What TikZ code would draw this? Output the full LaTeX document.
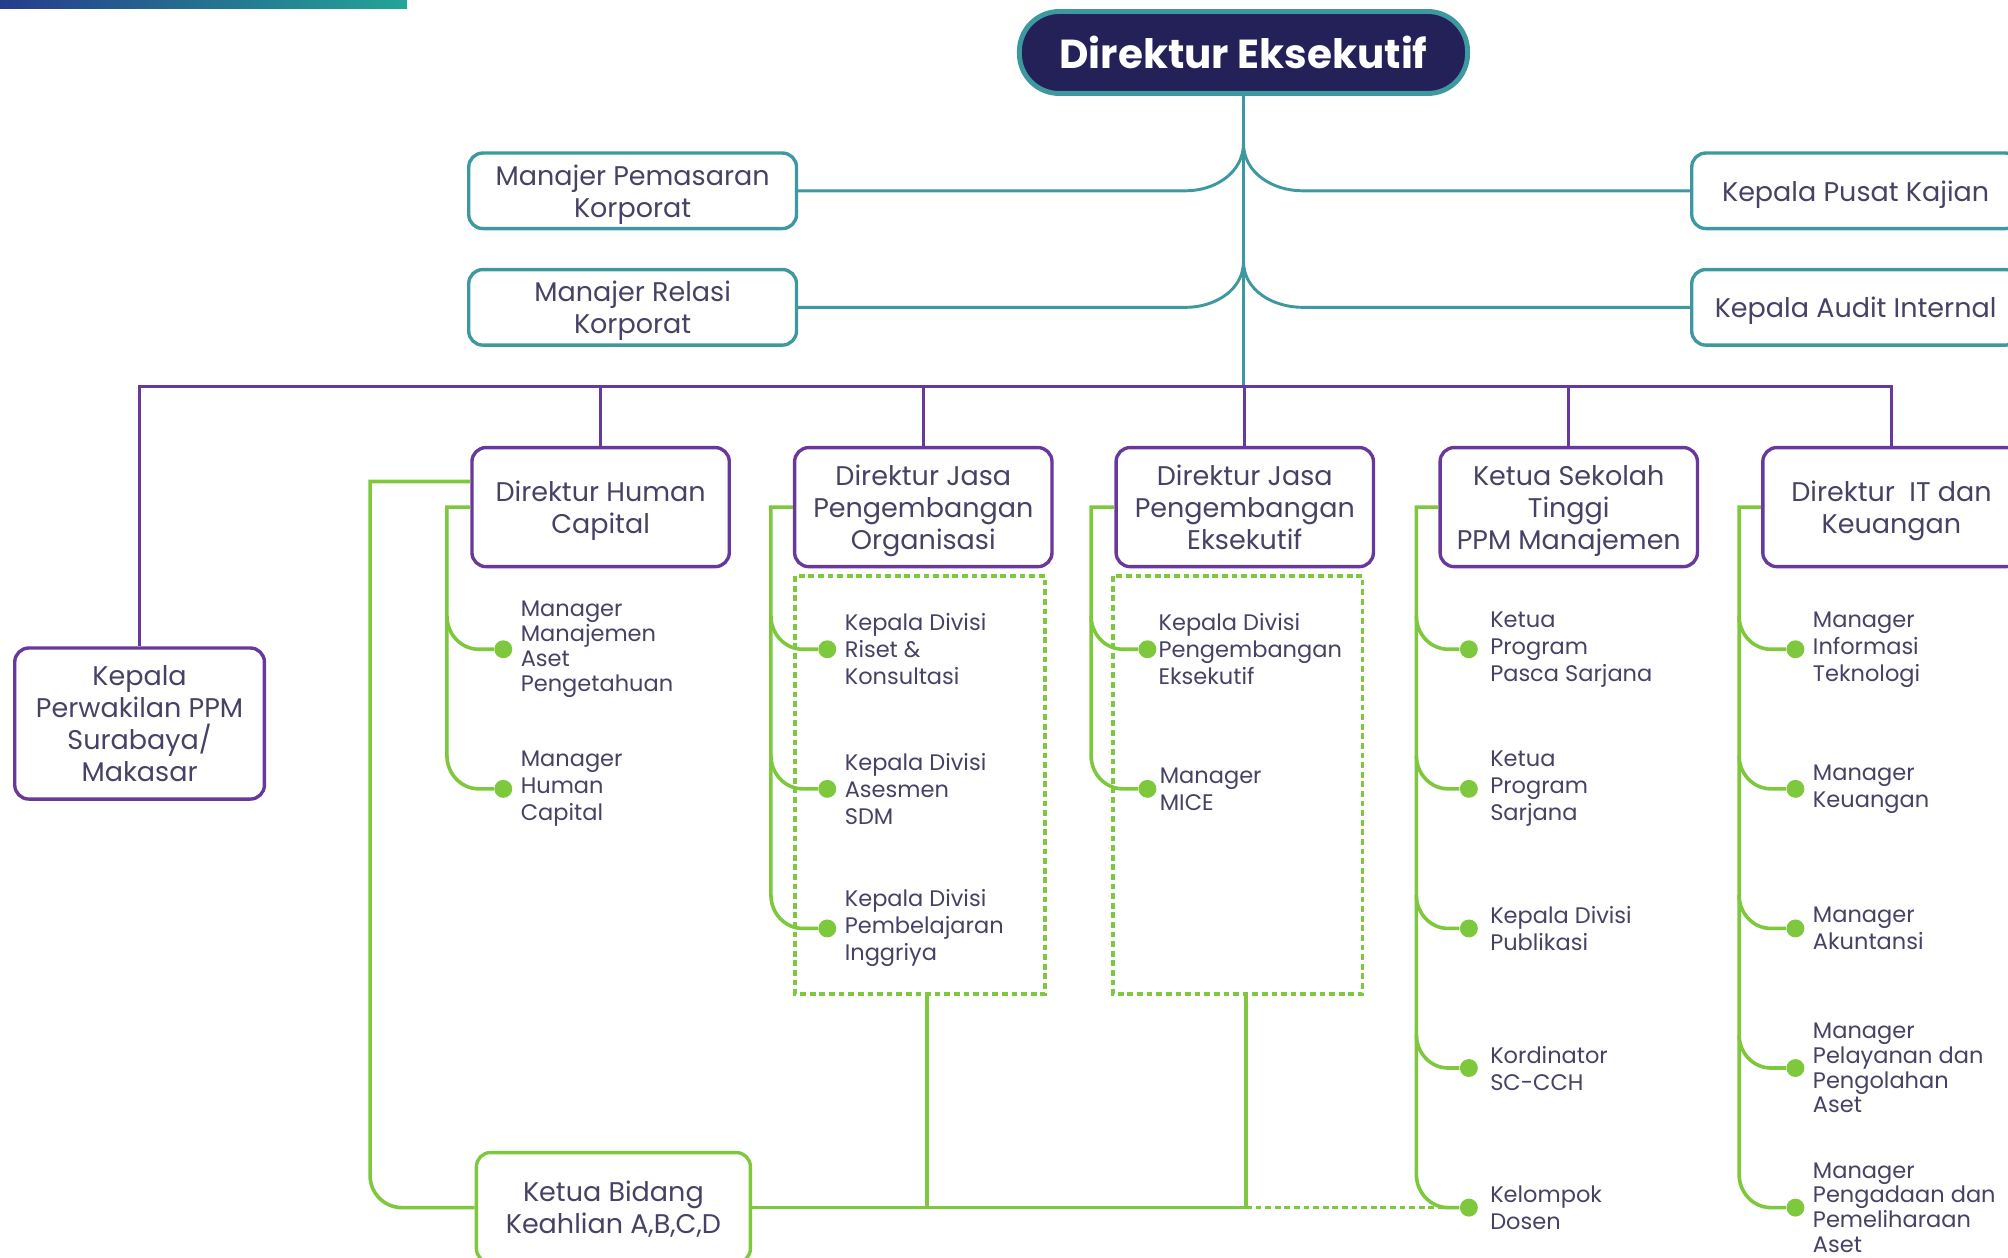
\documentclass[tikz,border=0pt]{standalone}
\usepackage{fontspec}
\setmainfont{Poppins}
\usetikzlibrary{positioning}

\definecolor{navy}{RGB}{35,33,87}
\definecolor{tealc}{RGB}{62,152,160}
\definecolor{purp}{RGB}{104,56,156}
\definecolor{lime}{RGB}{125,200,60}
\definecolor{inkc}{RGB}{70,66,100}
\definecolor{barblue}{RGB}{38,60,140}
\definecolor{barteal}{RGB}{35,165,150}

\tikzset{
  headbox/.style={draw=tealc, line width=2.2pt, fill=navy, text=white,
    rounded corners=0.62cm, minimum width=7.0cm, minimum height=1.28cm,
    font=\fontsize{18}{20}\selectfont\bfseries},
  tealbox/.style={draw=tealc, line width=1.5pt, rounded corners=0.22cm,
    minimum width=5.12cm, minimum height=1.18cm, align=center, text=inkc,
    text depth=0pt, font=\fontsize{12}{14.2}\selectfont},
  purpbox/.style={tealbox, draw=purp, minimum width=4.02cm, minimum height=1.86cm},
  greenbox/.style={tealbox, draw=lime, minimum width=4.28cm, minimum height=1.72cm},
  tealline/.style={draw=tealc, line width=1.3pt},
  purpline/.style={draw=purp, line width=1.3pt},
  greenline/.style={draw=lime, line width=1.6pt},
  greendash/.style={draw=lime, line width=1.6pt, dash pattern=on 0.09cm off 0.06cm},
  dot/.style={circle, fill=lime, inner sep=0pt, minimum size=0.28cm},
  item/.style={align=left, inner sep=0pt, text=inkc,
    font=\fontsize{10}{12}\selectfont},
  itemdense/.style={item, font=\fontsize{10}{11}\selectfont}
}

\begin{document}
\begin{tikzpicture}[x=0.02cm, y=-0.02cm]

\useasboundingbox (0,0) rectangle (1568,982);
\clip (0,0) rectangle (1568,982);

% The coloured bar in the corner
\shade[left color=barblue, right color=barteal] (0,0) rectangle (318,7);

% Director and the staff units beside him
\node[headbox] (dirut) at (971,41) {Direktur Eksekutif};
\node[tealbox] (mpk) at (494,149) {Manajer Pemasaran\\Korporat};
\node[tealbox] (mrk) at (494,240) {Manajer Relasi\\Korporat};
\node[tealbox] (kpk) at (1449,149) {Kepala Pusat Kajian};
\node[tealbox] (kai) at (1449,240) {Kepala Audit Internal};

\coordinate (j1) at (971,112);
\coordinate (j2) at (971,204);
\coordinate (busmid) at (971,302);

\draw[tealline] (dirut) -- (busmid);
\draw[tealline] (mpk.east) -- (926,149) to[out=0,in=-90] (j1);
\draw[tealline] (j1) to[out=-90,in=180] (1017,149) -- (kpk.west);
\draw[tealline] (mrk.east) -- (926,240) to[out=0,in=-90] (j2);
\draw[tealline] (j2) to[out=-90,in=180] (1017,240) -- (kai.west);

% The directors under the purple bus
\node[purpbox] (dhc) at (469,396) {Direktur Human\\Capital};
\node[purpbox] (djo) at (721,396) {Direktur Jasa\\Pengembangan\\Organisasi};
\node[purpbox] (dje) at (972,396) {Direktur Jasa\\Pengembangan\\Eksekutif};
\node[purpbox] (kst) at (1225,396) {Ketua Sekolah\\Tinggi\\PPM Manajemen};
\node[purpbox] (dit) at (1477,396) {Direktur\ \ IT dan\\Keuangan};
\node[purpbox, minimum width=3.9cm, minimum height=2.36cm] (kpw) at (109,565)
  {Kepala\\Perwakilan PPM\\Surabaya/\\Makasar};

\draw[purpline] (kpw) |- (busmid) -| (dit);
\draw[purpline] (dhc) -- (dhc |- busmid);
\draw[purpline] (djo) -- (djo |- busmid);
\draw[purpline] (dje) -- (dje |- busmid);
\draw[purpline] (kst) -- (kst |- busmid);

% Units of Direktur Human Capital
\node[dot] (d11) at (393,507) {};
\node[dot] (d12) at (393,616) {};
\node[itemdense, right=0.12cm of d11] (t11) {Manager\\Manajemen\\Aset\\Pengetahuan};
\node[item, right=0.12cm of d12] (t12) {Manager\\Human\\Capital};
\draw[greenline] (dhc.west) -| (349,590) to[out=-90,in=180] (374,616) -- (d12);
\draw[greenline] (349,481) to[out=-90,in=180] (374,507) -- (d11);

% Units of Direktur Jasa Pengembangan Organisasi
\draw[greendash] (621,450) rectangle (816,776);
\node[dot] (d21) at (646,507) {};
\node[dot] (d22) at (646,616) {};
\node[dot] (d23) at (646,725) {};
\node[item, right=0.12cm of d21] (t21) {Kepala Divisi\\Riset \&\\Konsultasi};
\node[item, right=0.12cm of d22] (t22) {Kepala Divisi\\Asesmen\\SDM};
\node[item, right=0.12cm of d23] (t23) {Kepala Divisi\\Pembelajaran\\Inggriya};
\draw[greenline] (djo.west) -| (602,699) to[out=-90,in=180] (627,725) -- (d23);
\draw[greenline] (602,481) to[out=-90,in=180] (627,507) -- (d21);
\draw[greenline] (602,590) to[out=-90,in=180] (627,616) -- (d22);

% Units of Direktur Jasa Pengembangan Eksekutif
\draw[greendash] (869,450) rectangle (1064,776);
\node[dot] (d31) at (896,507) {};
\node[dot] (d32) at (896,616) {};
\node[item, right=0.02cm of d31] (t31) {Kepala Divisi\\Pengembangan\\Eksekutif};
\node[item, right=0.04cm of d32] (t32) {Manager\\MICE};
\draw[greenline] (dje.west) -| (852,590) to[out=-90,in=180] (877,616) -- (d32);
\draw[greenline] (852,481) to[out=-90,in=180] (877,507) -- (d31);

% Units of Ketua Sekolah Tinggi
\node[dot] (d41) at (1147,507) {};
\node[dot] (d42) at (1147,616) {};
\node[dot] (d43) at (1147,725) {};
\node[dot] (d44) at (1147,834) {};
\node[dot] (d45) at (1147,943) {};
\node[item, right=0.18cm of d41] (t41) {Ketua\\Program\\Pasca Sarjana};
\node[item, right=0.18cm of d42] (t42) {Ketua\\Program\\Sarjana};
\node[item, right=0.18cm of d43] (t43) {Kepala Divisi\\Publikasi};
\node[item, right=0.18cm of d44] (t44) {Kordinator\\SC-CCH};
\node[item, right=0.18cm of d45] (t45) {Kelompok\\Dosen};
\draw[greenline] (kst.west) -| (1106,917) to[out=-90,in=180] (1131,943) -- (d45);
\draw[greenline] (1106,481) to[out=-90,in=180] (1131,507) -- (d41);
\draw[greenline] (1106,590) to[out=-90,in=180] (1131,616) -- (d42);
\draw[greenline] (1106,699) to[out=-90,in=180] (1131,725) -- (d43);
\draw[greenline] (1106,808) to[out=-90,in=180] (1131,834) -- (d44);

% Units of Direktur IT dan Keuangan
\node[dot] (d51) at (1402,507) {};
\node[dot] (d52) at (1402,616) {};
\node[dot] (d53) at (1402,725) {};
\node[dot] (d54) at (1402,834) {};
\node[dot] (d55) at (1402,943) {};
\node[item, right=0.12cm of d51] (t51) {Manager\\Informasi\\Teknologi};
\node[item, right=0.12cm of d52] (t52) {Manager\\Keuangan};
\node[item, right=0.12cm of d53] (t53) {Manager\\Akuntansi};
\node[itemdense, right=0.12cm of d54] (t54) {Manager\\Pelayanan dan\\Pengolahan\\Aset};
\node[itemdense, right=0.12cm of d55] (t55) {Manager\\Pengadaan dan\\Pemeliharaan\\Aset};
\draw[greenline] (dit.west) -| (1358,917) to[out=-90,in=180] (1383,943) -- (d55);
\draw[greenline] (1358,481) to[out=-90,in=180] (1383,507) -- (d51);
\draw[greenline] (1358,590) to[out=-90,in=180] (1383,616) -- (d52);
\draw[greenline] (1358,699) to[out=-90,in=180] (1383,725) -- (d53);
\draw[greenline] (1358,808) to[out=-90,in=180] (1383,834) -- (d54);

% Ketua Bidang and its links
\node[greenbox] (kbk) at (479,943) {Ketua Bidang\\Keahlian A,B,C,D};
\coordinate (orgbot) at (724,776);
\coordinate (eksbot) at (973,776);
\draw[greenline] ([yshift=0.4cm]dhc.west) -- (289,376) -- (289,918)
  to[out=-90,in=180] (314,943) -- (kbk.west);
\draw[greenline] (kbk.east) -- (eksbot |- kbk.east);
\draw[greenline] (orgbot) -- (orgbot |- kbk.east);
\draw[greenline] (eksbot) -- (eksbot |- kbk.east);
\draw[greendash] (eksbot |- kbk.east) -- (d45);

\end{tikzpicture}
\end{document}
